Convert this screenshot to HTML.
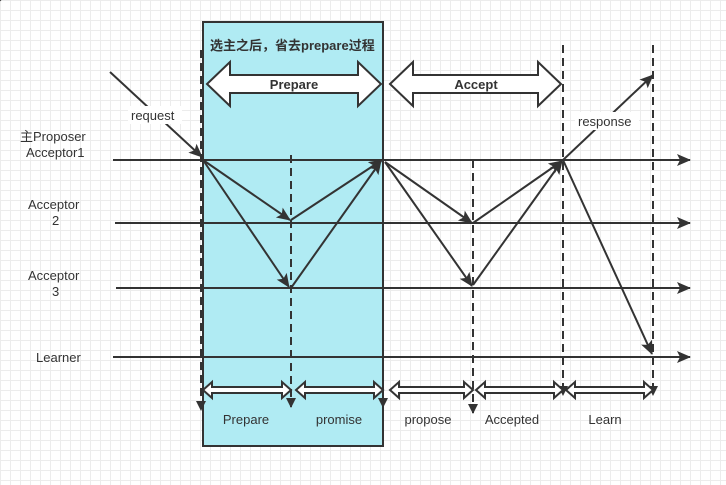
<!DOCTYPE html>
<html><head><meta charset="utf-8"><style>
body{margin:0;width:726px;height:485px;overflow:hidden;background:#fff;
background-image:linear-gradient(#ececec 1px,transparent 1px),linear-gradient(90deg,#ececec 1px,transparent 1px);background-size:10px 10px;}
svg{position:absolute;left:0;top:0}
text{font-family:"Liberation Sans","Noto Sans CJK SC",sans-serif;fill:#333;font-size:13px}
</style></head><body>
<svg width="726" height="485" viewBox="0 0 726 485">
<defs>
<marker id="a" markerWidth="10" markerHeight="10" refX="9" refY="5" orient="auto" markerUnits="userSpaceOnUse"><path d="M0,0 L10,5 L0,10 Z" fill="#333"/></marker>
<marker id="b" markerWidth="14" markerHeight="14" refX="13" refY="7" orient="auto" markerUnits="userSpaceOnUse"><path d="M0,1 L14,7 L0,13 L3,7 Z" fill="#333"/></marker>
</defs>
<rect x="203" y="22" width="180" height="424" fill="#b0ebf3" stroke="#333" stroke-width="2"/>
<text x="210" y="50" font-weight="bold" font-size="13">选主之后，省去prepare过程</text>
<!-- block arrows -->
<path d="M207,84 L230,62 L230,75 L358,75 L358,62 L381,84 L358,106 L358,93 L230,93 L230,106 Z" fill="#fff" stroke="#333" stroke-width="2"/>
<text x="294" y="89" text-anchor="middle" font-weight="bold">Prepare</text>
<path d="M390,84 L413,62 L413,75 L538,75 L538,62 L561,84 L538,106 L538,93 L413,93 L413,106 Z" fill="#fff" stroke="#333" stroke-width="2"/>
<text x="476" y="89" text-anchor="middle" font-weight="bold">Accept</text>
<!-- horizontal lines -->
<g stroke="#333" stroke-width="2" fill="none">
<line x1="113" y1="160" x2="690" y2="160" marker-end="url(#b)"/>
<line x1="115" y1="223" x2="690" y2="223" marker-end="url(#b)"/>
<line x1="116" y1="288" x2="690" y2="288" marker-end="url(#b)"/>
<line x1="113" y1="357" x2="690" y2="357" marker-end="url(#b)"/>
</g>
<!-- dashed verticals -->
<g stroke="#333" stroke-width="2" stroke-dasharray="8,5" fill="none">
<line x1="201" y1="50" x2="201" y2="410" marker-end="url(#a)"/>
<line x1="291" y1="155" x2="291" y2="407" marker-end="url(#a)"/>
<line x1="383" y1="160" x2="383" y2="407" marker-end="url(#a)"/>
<line x1="473" y1="160" x2="473" y2="413" marker-end="url(#a)"/>
<line x1="563" y1="45" x2="563" y2="395" marker-end="url(#a)"/>
<line x1="653" y1="45" x2="653" y2="395" marker-end="url(#a)"/>
</g>
<!-- diagonals -->
<g stroke="#333" stroke-width="2" fill="none">
<line x1="110" y1="72" x2="202" y2="157" marker-end="url(#b)"/>
<line x1="203" y1="160" x2="290" y2="220" marker-end="url(#b)"/>
<line x1="203" y1="160" x2="289" y2="287" marker-end="url(#b)"/>
<line x1="291" y1="220" x2="382" y2="160" marker-end="url(#b)"/>
<line x1="291" y1="288" x2="381" y2="161" marker-end="url(#b)"/>
<line x1="385" y1="162" x2="472" y2="223" marker-end="url(#b)"/>
<line x1="385" y1="162" x2="472" y2="286" marker-end="url(#b)"/>
<line x1="473" y1="223" x2="562" y2="161" marker-end="url(#b)"/>
<line x1="473" y1="285" x2="562" y2="161" marker-end="url(#b)"/>
<line x1="563" y1="160" x2="653" y2="75" marker-end="url(#b)"/>
<line x1="563" y1="160" x2="652" y2="354" marker-end="url(#b)"/>
</g>
<rect x="128" y="106" width="54" height="18" fill="#fff"/>
<text x="131" y="120">request</text>
<rect x="575" y="112" width="64" height="18" fill="#fff"/>
<text x="578" y="126">response</text>
<!-- labels -->
<text x="20" y="141">主Proposer</text>
<text x="26" y="157">Acceptor1</text>
<text x="28" y="209">Acceptor</text>
<text x="52" y="225">2</text>
<text x="28" y="280">Acceptor</text>
<text x="52" y="296">3</text>
<text x="36" y="362">Learner</text>
<!-- bottom double arrows -->
<g fill="#fff" stroke="#333" stroke-width="2">
<path id="d" d="M0,0 L9,-8 L9,-3 L-9,-3 L-9,-8 L0,0 Z"/>
</g>
<g fill="#fff" stroke="#333" stroke-width="2">
<path d="M203,390 L212,382 L212,387 L282,387 L282,382 L291,390 L282,398 L282,393 L212,393 L212,398 Z"/>
<path d="M296,390 L305,382 L305,387 L374,387 L374,382 L383,390 L374,398 L374,393 L305,393 L305,398 Z"/>
<path d="M390,390 L399,382 L399,387 L464,387 L464,382 L473,390 L464,398 L464,393 L399,393 L399,398 Z"/>
<path d="M476,390 L485,382 L485,387 L554,387 L554,382 L563,390 L554,398 L554,393 L485,393 L485,398 Z"/>
<path d="M566,390 L575,382 L575,387 L644,387 L644,382 L653,390 L644,398 L644,393 L575,393 L575,398 Z"/>
</g>
<text x="246" y="424" text-anchor="middle">Prepare</text>
<text x="339" y="424" text-anchor="middle">promise</text>
<text x="428" y="424" text-anchor="middle">propose</text>
<text x="512" y="424" text-anchor="middle">Accepted</text>
<text x="605" y="424" text-anchor="middle">Learn</text>
</svg>
</body></html>
